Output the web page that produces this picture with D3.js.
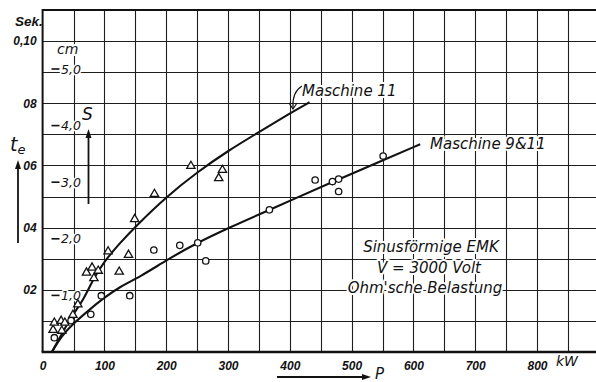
<!DOCTYPE html>
<html>
<head>
<meta charset="utf-8">
<script src="https://cdn.jsdelivr.net/npm/d3@7"></script>
<style>
  html, body { margin: 0; padding: 0; background: #fff; }
  svg { display: block; }
  text { fill: #121212; }
</style>
</head>
<body>
<svg id="chart" width="596" height="382"></svg>
<script>
// Abschaltzeit t_e (Sek.) bzw. Weg S (cm) über der Leistung P (kW)

// x-axis tick values and grid
const kwTicks = [0, 100, 200, 300, 400, 500, 600, 700, 800];
const kwGrid = [50, 100, 150, 200, 250, 300, 350, 400, 450, 500, 550, 600, 650, 700, 750, 800, 850, 900];

// left axis: seconds
const secTicks = [0.02, 0.04, 0.06, 0.08, 0.10];
const secLabels = ["02", "04", "06", "08", "0,10"];
const secGrid = [0.01, 0.02, 0.03, 0.04, 0.05, 0.06, 0.07, 0.08, 0.09, 0.10];

// inner scale: path S in cm
const cmTicks = [1, 2, 3, 4, 5];
const cmLabels = ["1,0", "2,0", "3,0", "4,0", "5,0"];

// measured points, Maschine 11 (triangles)
const m11P = [17, 19, 30, 31, 36, 49, 57, 71, 80, 83, 90, 106, 124, 139, 149, 181, 240, 285, 291];
const m11T = [0.0071, 0.0094, 0.0100, 0.0068, 0.0094, 0.0119, 0.0153, 0.0255, 0.0271, 0.0237, 0.0261,
              0.0323, 0.0258, 0.0312, 0.0427, 0.0508, 0.0598, 0.0559, 0.0585];

// measured points, Maschine 9 & 11 (circles)
const m911P = [19, 46, 78, 95, 141, 180, 222, 251, 264, 367, 441, 469, 479, 479, 551];
const m911T = [0.0046, 0.0101, 0.0121, 0.0181, 0.0181, 0.0328, 0.0343, 0.0351, 0.0293, 0.0457,
               0.0553, 0.0548, 0.0556, 0.0516, 0.0630];

// mean curves
const c11P = [15, 30, 50, 66, 82, 100, 125, 150, 200, 250, 300, 350, 400, 432];
const c11T = [0, 0.0055, 0.0124, 0.0167, 0.0235, 0.0292, 0.0350, 0.0403, 0.0499, 0.0578, 0.0647, 0.0707, 0.0767, 0.0803];
const c911P = [15, 30, 50, 75, 98, 125, 158, 201, 249, 303, 367, 400, 476, 546, 611];
const c911T = [0, 0.0050, 0.0092, 0.0135, 0.0172, 0.0210, 0.0242, 0.0296, 0.0350, 0.0401, 0.0457, 0.0486, 0.0553, 0.0612, 0.0668];

const svg = d3.select("#chart");
const ink = "#121212";
const FONT = "'DejaVu Sans', sans-serif";
const TICKFONT = "'Liberation Sans', Arial, sans-serif";

const x = d3.scaleLinear().domain([0, 900]).range([42.6, 598.8]);
const y = d3.scaleLinear().domain([0, 0.11]).range([352, 9.9]);
const s = d3.scaleLinear().domain([0, 5]).range([352, 69]);

// snap a hairline to the pixel grid
const px = v => Math.round(v) + 0.5;

// grid
const grid = svg.append("g").attr("stroke", "#1e1e1e").attr("stroke-width", 1.1);
grid.selectAll("line.h").data(secGrid).join("line")
  .attr("x1", x(0)).attr("x2", 596)
  .attr("y1", d => px(y(d))).attr("y2", d => px(y(d)));
grid.selectAll("line.v").data(kwGrid).join("line")
  .attr("x1", d => px(x(d))).attr("x2", d => px(x(d)))
  .attr("y1", y(0.11)).attr("y2", y(0));

// frame: top, left, bottom
svg.append("line").attr("x1", x(0)).attr("x2", 596).attr("y1", y(0.11)).attr("y2", y(0.11))
  .attr("stroke", ink).attr("stroke-width", 2);
svg.append("line").attr("x1", x(0)).attr("x2", x(0)).attr("y1", y(0.11) - 1).attr("y2", y(0))
  .attr("stroke", ink).attr("stroke-width", 2);

// bottom axis with kW labels
const xAxis = d3.axisBottom(x).tickValues(kwTicks).tickSize(0).tickPadding(8).tickFormat(d3.format("d"));
const gx = svg.append("g").attr("transform", `translate(0,${y(0)})`).call(xAxis);
gx.select(".domain").attr("d", `M${x(0) - 1},0H596`).attr("stroke", ink).attr("stroke-width", 2.5);
gx.selectAll("text").attr("font-family", TICKFONT).attr("font-size", 12)
  .attr("font-weight", "bold").attr("font-style", "italic").attr("fill", ink).attr("dy", "0.85em");

// left axis with seconds labels
const yAxis = d3.axisLeft(y).tickValues(secTicks).tickSize(0).tickPadding(6)
  .tickFormat((d, i) => secLabels[i]);
const gy = svg.append("g").attr("transform", `translate(${x(0)},0)`).call(yAxis);
gy.select(".domain").remove();
gy.selectAll("text").attr("font-family", TICKFONT).attr("font-size", 12)
  .attr("font-weight", "bold").attr("font-style", "italic").attr("fill", ink);

svg.append("text").attr("x", 15).attr("y", 26).text("Sek.")
  .attr("font-family", TICKFONT).attr("font-size", 13.5).attr("font-weight", "bold").attr("font-style", "italic");

svg.append("text").attr("x", 556).attr("y", 366).text("kW")
  .attr("font-family", FONT).attr("font-size", 14).attr("font-style", "italic");

// cm scale inside the plot
const halo = (sel, w = 4) => sel.attr("stroke", "#fff").attr("stroke-width", w).attr("paint-order", "stroke")
  .attr("stroke-linejoin", "round");
const cmG = svg.append("g");
cmG.selectAll("text").data(cmTicks).join("text")
  .attr("x", 61).attr("y", d => s(d)).attr("dy", "0.36em")
  .text((d, i) => cmLabels[i])
  .attr("font-family", FONT).attr("font-size", 12.5).attr("font-style", "italic").call(halo, 3);
cmG.selectAll("line").data(cmTicks).join("line")
  .attr("x1", 51.5).attr("x2", 59.5).attr("y1", d => s(d)).attr("y2", d => s(d))
  .attr("stroke", ink).attr("stroke-width", 1.6);
svg.append("text").attr("x", 57).attr("y", 54).text("cm")
  .attr("font-family", FONT).attr("font-size", 14).attr("font-style", "italic").call(halo);

// arrows for S, t_e and P
function arrow(x1, y1, x2, y2) {
  const g = svg.append("g");
  const a = Math.atan2(y2 - y1, x2 - x1), L = 9, W = 3;
  const bx = x2 - L * Math.cos(a), by = y2 - L * Math.sin(a);
  g.append("line").attr("x1", x1).attr("y1", y1).attr("x2", bx).attr("y2", by)
    .attr("stroke", ink).attr("stroke-width", 1.8);
  g.append("path")
    .attr("d", `M${x2},${y2}L${bx - W * Math.sin(a)},${by + W * Math.cos(a)}L${bx + W * Math.sin(a)},${by - W * Math.cos(a)}Z`)
    .attr("fill", ink);
}
arrow(88.5, 204, 88.5, 129);
arrow(18, 243, 18, 160);
arrow(277, 377, 371, 377);

svg.append("text").attr("x", 82).attr("y", 120).text("S")
  .attr("font-family", FONT).attr("font-size", 17).attr("font-style", "italic").call(halo);
const te = svg.append("text").attr("x", 10).attr("y", 151)
  .attr("font-family", FONT).attr("font-size", 19).attr("font-style", "italic");
te.append("tspan").text("t");
te.append("tspan").text("e").attr("font-size", 13).attr("dy", 3);
svg.append("text").attr("x", 375).attr("y", 379).text("P")
  .attr("font-family", FONT).attr("font-size", 15).attr("font-style", "italic");

// curves
const line = d3.line().x(d => x(d[0])).y(d => y(d[1])).curve(d3.curveBasis);
svg.append("path").datum(c11P.map((p, i) => [p, c11T[i]])).attr("d", line)
  .attr("fill", "none").attr("stroke", ink).attr("stroke-width", 2.1);
svg.append("path").datum(c911P.map((p, i) => [p, c911T[i]])).attr("d", line)
  .attr("fill", "none").attr("stroke", ink).attr("stroke-width", 2.1);

// measured points
const tri = d3.symbol(d3.symbolTriangle, 30);
svg.append("g").selectAll("path").data(m11P.map((p, i) => [p, m11T[i]])).join("path")
  .attr("d", tri).attr("transform", d => `translate(${x(d[0])},${y(d[1])})`)
  .attr("fill", "#fff").attr("stroke", ink).attr("stroke-width", 1.3);
svg.append("g").selectAll("circle").data(m911P.map((p, i) => [p, m911T[i]])).join("circle")
  .attr("cx", d => x(d[0])).attr("cy", d => y(d[1])).attr("r", 3.2)
  .attr("fill", "#fff").attr("stroke", ink).attr("stroke-width", 1.3);

// curve labels
svg.append("path").attr("d", `M302,86 Q292,92 293,108`).attr("fill", "none")
  .attr("stroke", ink).attr("stroke-width", 1.2);
svg.append("path").attr("d", `M289,103 L293,109 L297,103`).attr("fill", "none")
  .attr("stroke", ink).attr("stroke-width", 1.2);
svg.append("text").attr("x", 302).attr("y", 96).text("Maschine 11")
  .attr("font-family", FONT).attr("font-size", 15).attr("font-style", "italic").call(halo);
svg.append("text").attr("x", 430).attr("y", 149).text("Maschine 9&11")
  .attr("font-family", FONT).attr("font-size", 15).attr("font-style", "italic").call(halo);

// operating conditions
const note = svg.append("g").attr("font-family", FONT).attr("font-style", "italic")
  .attr("font-size", 15).attr("text-anchor", "middle");
note.append("text").attr("x", 431).attr("y", 252).text("Sinusförmige EMK").call(halo);
note.append("text").attr("x", 429).attr("y", 273).text("V = 3000 Volt").call(halo);
note.append("text").attr("x", 425).attr("y", 293).text("Ohm'sche Belastung").call(halo);
</script>
</body>
</html>
